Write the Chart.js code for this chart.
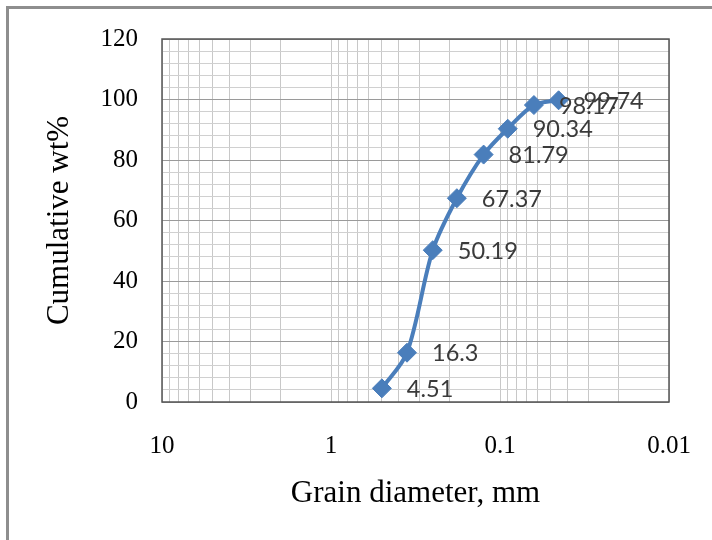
<!DOCTYPE html>
<html lang="en">
<head>
    <meta charset="UTF-8">
    <title>Cumulative wt% vs grain diameter</title>
    <script src="https://cdn.jsdelivr.net/npm/chart.js"></script>
    <style>
        body { margin: 0; background: #fff; }
        .wrap { position: relative; width: 712px; height: 540px; overflow: hidden; }
        .frame { position: absolute; left: 6px; top: 6px; width: 800px; height: 700px;
                 border-left: 3px solid #8e8e8e; border-top: 3px solid #8e8e8e; }
        canvas { position: absolute; left: 0; top: 0; }
    </style>
</head>
<body>
    <div class="wrap">
        <div class="frame"></div>
        <canvas id="sieveChart" width="712" height="540"></canvas>
    </div>

    <script>
        // data
        const diameters = [0.5, 0.355, 0.25, 0.18, 0.125, 0.09, 0.063, 0.045];
        const cumulative = [4.51, 16.3, 50.19, 67.37, 81.79, 90.34, 98.17, 99.74];
        const xDecades = [10, 1, 0.1, 0.01];
        const xTickLabels = ['10', '1', '0.1', '0.01'];
        const yTickLabels = ['0', '20', '40', '60', '80', '100', '120'];

        // grid lines: 1..9 in every decade
        const xGrid = [];
        [0.01, 0.1, 1].forEach(d => {
            for (let m = 1; m <= 9; m++) xGrid.push(+(m * d).toFixed(4));
        });
        xGrid.push(10);

        const points = diameters.map((d, i) => ({ x: d, y: cumulative[i] }));

        // plot frame + value labels
        const extras = {
            id: 'extras',
            beforeDatasetsDraw(chart) {
                const a = chart.chartArea, ctx = chart.ctx;
                ctx.save();
                ctx.strokeStyle = '#555';
                ctx.lineWidth = 1.5;
                ctx.strokeRect(a.left, a.top, a.right - a.left, a.bottom - a.top);
                ctx.restore();
            },
            afterDatasetsDraw(chart) {
                const ctx = chart.ctx;
                const meta = chart.getDatasetMeta(0);
                ctx.save();
                ctx.font = '23.5px Lato';
                ctx.fillStyle = '#3a3a3a';
                ctx.textAlign = 'left';
                ctx.textBaseline = 'middle';
                meta.data.forEach((el, i) => {
                    ctx.fillText(String(cumulative[i]), el.x + 25, el.y + 1);
                });
                ctx.restore();
            }
        };

        const ctx = document.getElementById('sieveChart').getContext('2d');
        new Chart(ctx, {
            type: 'line',
            data: {
                datasets: [{
                    data: points,
                    borderColor: '#4A7EBB',
                    backgroundColor: '#4A7EBB',
                    borderWidth: 4,
                    tension: 0.3,
                    pointStyle: 'rectRot',
                    pointRadius: 9.5,
                    pointBorderWidth: 1,
                    fill: false
                }]
            },
            options: {
                responsive: false,
                animation: false,
                layout: { padding: { top: 37, right: 43, left: 0, bottom: 0 } },
                plugins: { legend: { display: false }, tooltip: { enabled: false } },
                scales: {
                    x: {
                        type: 'logarithmic',
                        reverse: true,
                        min: 0.01,
                        max: 10,
                        afterBuildTicks: s => { s.ticks = xGrid.map(v => ({ value: v })); },
                        afterFit: s => { s.height = 138; },
                        border: { display: false },
                        grid: { color: '#c8c8c8', lineWidth: 1, drawTicks: false },
                        ticks: {
                            autoSkip: false,
                            maxRotation: 0,
                            padding: 29,
                            color: '#000',
                            font: { family: 'Liberation Serif', size: 25 },
                            callback: value => {
                                const i = xDecades.findIndex(d => Math.abs(d - value) < 1e-9);
                                return i >= 0 ? xTickLabels[i] : '';
                            }
                        },
                        title: {
                            display: true,
                            text: 'Grain diameter, mm',
                            color: '#000',
                            font: { family: 'Liberation Serif', size: 31 },
                            padding: { top: 0, bottom: 28 }
                        }
                    },
                    y: {
                        min: 0,
                        max: 120,
                        afterFit: s => { s.width = 162; },
                        border: { display: false },
                        grid: {
                            drawTicks: false,
                            color: c => (c.tick && c.tick.value % 20 === 0) ? '#9a9a9a' : '#d0d0d0'
                        },
                        ticks: {
                            stepSize: 4,
                            autoSkip: false,
                            padding: 24,
                            color: '#000',
                            font: { family: 'Liberation Serif', size: 25 },
                            callback: value => value % 20 === 0 ? yTickLabels[value / 20] : ''
                        },
                        title: {
                            display: true,
                            text: 'Cumulative wt%',
                            color: '#000',
                            font: { family: 'Liberation Serif', size: 31 },
                            padding: { top: 41, bottom: 0 }
                        }
                    }
                }
            },
            plugins: [extras]
        });
    </script>
</body>
</html>
